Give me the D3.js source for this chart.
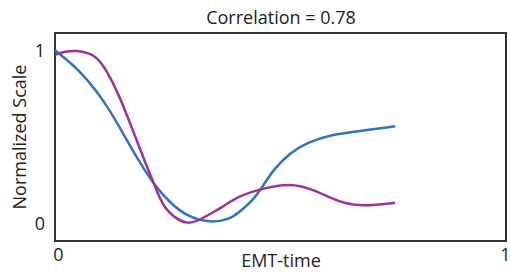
<!DOCTYPE html>
<html>
<head>
<meta charset="utf-8">
<script src="https://cdn.jsdelivr.net/npm/d3@7"></script>
<style>
  body { margin: 0; background: #fff; }
  text { font-family: "Open Sans", "DejaVu Sans", sans-serif; fill: #222; }
</style>
</head>
<body>
<div id="chart"></div>
<script>
// data (x = EMT-time, y = normalized scale)
var title = "Correlation = 0.78",
    x_label = "EMT-time",
    y_label = "Normalized Scale",
    x_ticks = [0, 1],
    y_ticks = [0, 1];

var blue_x = [0, 0.062, 0.122, 0.160, 0.188, 0.222, 0.255, 0.292, 0.344, 0.388, 0.410, 0.439, 0.458, 0.484, 0.521, 0.558, 0.610, 0.691, 0.754],
    blue_y = [1.00, 0.871, 0.659, 0.476, 0.353, 0.216, 0.121, 0.042, 0.003, 0.026, 0.070, 0.135, 0.205, 0.312, 0.409, 0.466, 0.514, 0.539, 0.562];

var purple_x = [0, 0.022, 0.049, 0.078, 0.100, 0.137, 0.166, 0.203, 0.222, 0.239, 0.270, 0.295, 0.314, 0.350, 0.373, 0.410, 0.458, 0.521, 0.573, 0.610, 0.643, 0.683, 0.754],
    purple_y = [0.974, 0.994, 1.00, 0.983, 0.948, 0.775, 0.584, 0.331, 0.216, 0.100, 0.023, 0.0, 0.013, 0.064, 0.100, 0.162, 0.202, 0.235, 0.197, 0.149, 0.116, 0.100, 0.120];

// sizes
var width = 510, height = 274,
    margin = {top: 33, right: 4, bottom: 33, left: 55};

var x = d3.scaleLinear().domain([0, 1]).range([margin.left, width - margin.right]),
    y = d3.scaleLinear().domain([-0.1, 1.1]).range([height - margin.bottom, margin.top]);

var svg = d3.select('#chart').append('svg')
    .attr('width', width)
    .attr('height', height);

// frame
svg.append('rect')
    .attr('x', x(0)).attr('y', y(1.1))
    .attr('width', x(1) - x(0)).attr('height', y(-0.1) - y(1.1))
    .attr('fill', 'none').attr('stroke', '#333').attr('stroke-width', 2);

// axes (labels only)
var x_axis = d3.axisBottom(x).tickValues(x_ticks).tickSize(0).tickPadding(7).tickFormat(d3.format('d')),
    y_axis = d3.axisLeft(y).tickValues(y_ticks).tickSize(0).tickPadding(8).tickFormat(d3.format('d'));

var gx = svg.append('g').attr('transform', 'translate(0,' + y(-0.1) + ')').call(x_axis);
var gy = svg.append('g').attr('transform', 'translate(' + x(0) + ',0)').call(y_axis);
[gx, gy].forEach(function(g) {
  g.select('.domain').remove();
  g.selectAll('text').style('font-size', '18px').attr('fill', '#222');
});
gx.selectAll('.tick text').attr('dx', function(d) { return d === 0 ? 3 : -1; });
gy.selectAll('.tick text').attr('dx', -2);

// lines
var line = d3.line()
    .x(function(d) { return x(d[0]); })
    .y(function(d) { return y(d[1]); })
    .curve(d3.curveBasis);

var series = [
  {color: '#2e74c0', pts: d3.zip(blue_x, blue_y)},
  {color: '#a0329b', pts: d3.zip(purple_x, purple_y)}
];

svg.selectAll('.series').data(series).enter().append('path')
    .attr('class', 'series')
    .attr('d', function(d) { return line(d.pts); })
    .attr('fill', 'none')
    .attr('stroke', function(d) { return d.color; })
    .attr('stroke-width', 2.5);

// titles
svg.append('text')
    .attr('x', 281).attr('y', 24)
    .attr('text-anchor', 'middle')
    .style('font-size', '18px')
    .text(title);

svg.append('text')
    .attr('x', 281).attr('y', 267)
    .attr('text-anchor', 'middle')
    .style('font-size', '18px')
    .text(x_label);

svg.append('text')
    .attr('transform', 'translate(26,' + 137 + ') rotate(-90)')
    .attr('text-anchor', 'middle')
    .style('font-size', '18px')
    .text(y_label);
</script>
</body>
</html>
